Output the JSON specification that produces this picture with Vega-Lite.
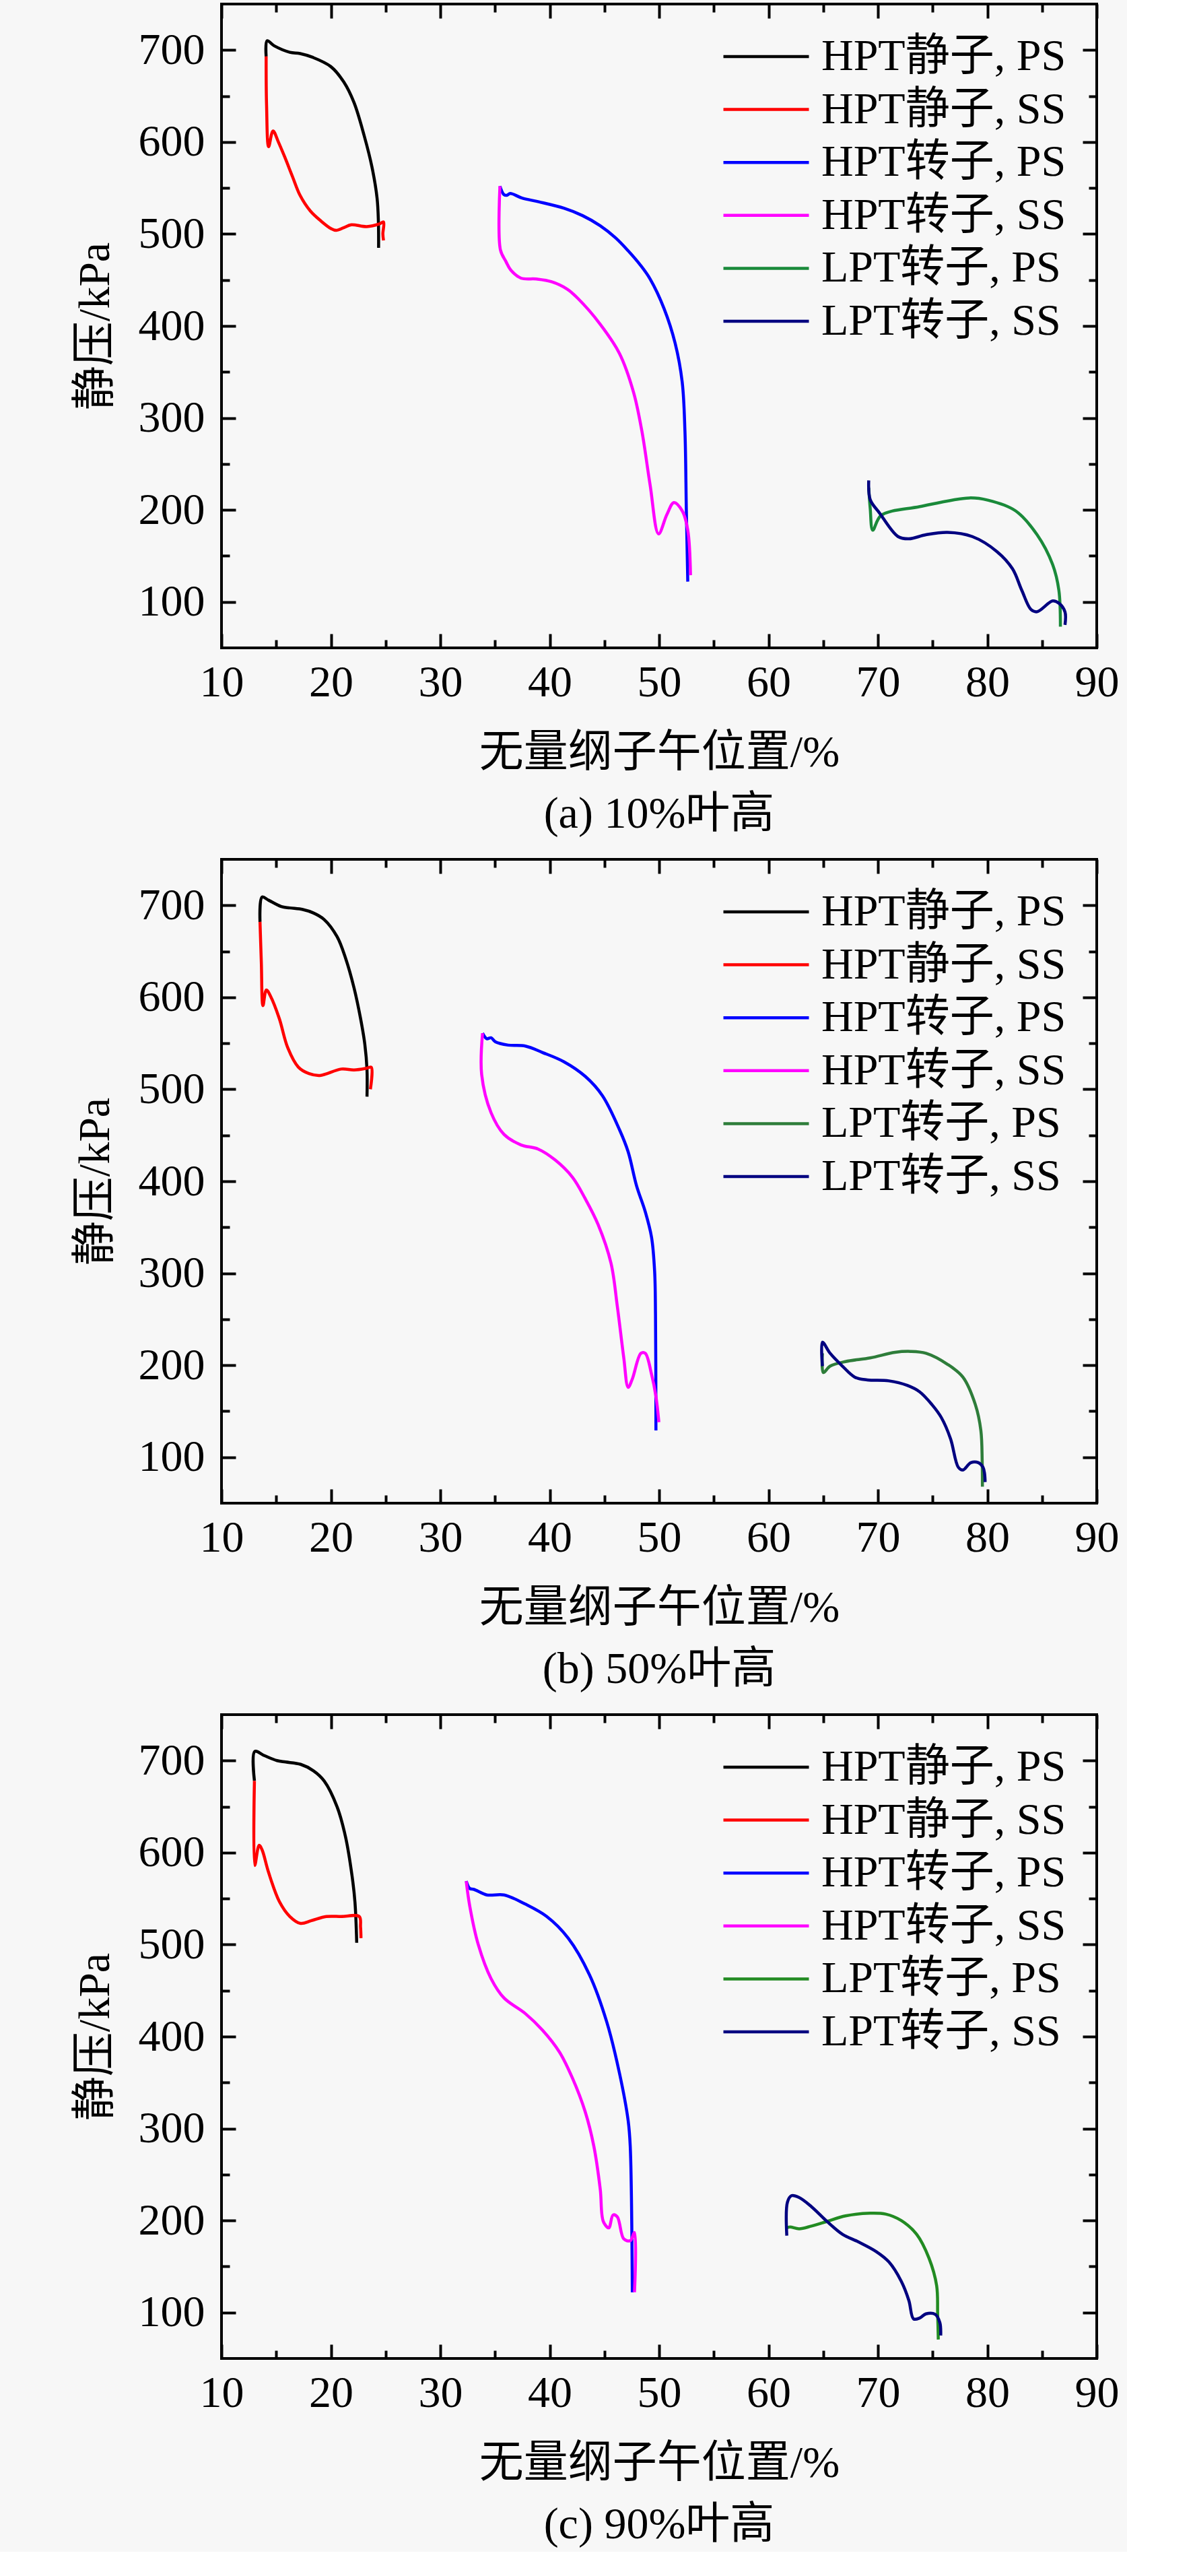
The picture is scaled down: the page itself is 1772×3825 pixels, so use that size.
{
"$schema": "https://vega.github.io/schema/vega-lite/v6.json",
"background": "#f7f7f7",
"padding": {"left": 106, "top": 2, "right": 10, "bottom": 5},
"spacing": 28,
"config": {
 "font": "Liberation Serif, Noto Sans CJK SC",
 "view": {"stroke": "#000000", "strokeWidth": 4},
 "axis": {"domain": false, "grid": false, "tickColor": "#000000", "tickWidth": 4, "labelFont": "Liberation Serif, Noto Sans CJK SC", "labelFontSize": 66, "labelColor": "#000000", "labelFlush": false, "labelOverlap": false, "titleFont": "Liberation Serif, Noto Sans CJK SC", "titleFontSize": 66, "titleFontWeight": "normal", "titleColor": "#000000"},
 "title": {"font": "Liberation Serif, Noto Sans CJK SC", "fontSize": 66, "fontWeight": "normal", "color": "#000000"},
 "legend": {"orient": "top-right", "offset": 45, "padding": 0, "labelFont": "Liberation Serif, Noto Sans CJK SC", "labelFontSize": 66, "labelColor": "#000000", "labelLimit": 1000, "symbolType": "stroke", "symbolSize": 16129, "symbolStrokeWidth": 4.5, "clipHeight": 66, "rowPadding": 12.6, "labelOffset": 16}
},
"resolve": {"scale": {"color": "independent"}, "legend": {"color": "independent"}},
"datasets": {
 "a": [
  {"s":"HPT静子, PS","i":0,"x":14.08,"y":693},{"s":"HPT静子, PS","i":1,"x":14.17,"y":710},{"s":"HPT静子, PS","i":2,"x":14.83,"y":704.5},{"s":"HPT静子, PS","i":3,"x":16.24,"y":697.6},{"s":"HPT静子, PS","i":4,"x":17.18,"y":696.2},{"s":"HPT静子, PS","i":5,"x":18.35,"y":692},{"s":"HPT静子, PS","i":6,"x":19.99,"y":682},{"s":"HPT静子, PS","i":7,"x":21.17,"y":665.4},{"s":"HPT静子, PS","i":8,"x":22.11,"y":643},{"s":"HPT静子, PS","i":9,"x":23.05,"y":606.5},{"s":"HPT静子, PS","i":10,"x":23.75,"y":573},{"s":"HPT静子, PS","i":11,"x":24.22,"y":539},{"s":"HPT静子, PS","i":12,"x":24.34,"y":514},{"s":"HPT静子, PS","i":13,"x":24.36,"y":485},
  {"s":"HPT静子, SS","i":0,"x":14.08,"y":693},{"s":"HPT静子, SS","i":1,"x":14.12,"y":640},{"s":"HPT静子, SS","i":2,"x":14.31,"y":595},{"s":"HPT静子, SS","i":3,"x":14.71,"y":612},{"s":"HPT静子, SS","i":4,"x":15.2,"y":600},{"s":"HPT静子, SS","i":5,"x":15.77,"y":584},{"s":"HPT静子, SS","i":6,"x":16.5,"y":562},{"s":"HPT静子, SS","i":7,"x":17.18,"y":542},{"s":"HPT静子, SS","i":8,"x":18.12,"y":525},{"s":"HPT静子, SS","i":9,"x":19.1,"y":514},{"s":"HPT静子, SS","i":10,"x":19.99,"y":506},{"s":"HPT静子, SS","i":11,"x":20.47,"y":504},{"s":"HPT静子, SS","i":12,"x":21.2,"y":507},{"s":"HPT静子, SS","i":13,"x":21.87,"y":510},{"s":"HPT静子, SS","i":14,"x":23.28,"y":508},{"s":"HPT静子, SS","i":15,"x":24.45,"y":511},{"s":"HPT静子, SS","i":16,"x":24.81,"y":513},{"s":"HPT静子, SS","i":17,"x":24.75,"y":500},{"s":"HPT静子, SS","i":18,"x":24.81,"y":493},
  {"s":"HPT转子, PS","i":0,"x":35.45,"y":552},{"s":"HPT转子, PS","i":1,"x":35.8,"y":543},{"s":"HPT转子, PS","i":2,"x":36.08,"y":542},{"s":"HPT转子, PS","i":3,"x":36.4,"y":544},{"s":"HPT转子, PS","i":4,"x":37.48,"y":539},{"s":"HPT转子, PS","i":5,"x":39.0,"y":535},{"s":"HPT转子, PS","i":6,"x":41.3,"y":528},{"s":"HPT转子, PS","i":7,"x":43.0,"y":520},{"s":"HPT转子, PS","i":8,"x":44.61,"y":509},{"s":"HPT转子, PS","i":9,"x":46.0,"y":496},{"s":"HPT转子, PS","i":10,"x":47.15,"y":482},{"s":"HPT转子, PS","i":11,"x":48.3,"y":466},{"s":"HPT转子, PS","i":12,"x":49.18,"y":451},{"s":"HPT转子, PS","i":13,"x":50.45,"y":419},{"s":"HPT转子, PS","i":14,"x":51.47,"y":381},{"s":"HPT转子, PS","i":15,"x":52.11,"y":339},{"s":"HPT转子, PS","i":16,"x":52.36,"y":286},{"s":"HPT转子, PS","i":17,"x":52.49,"y":199},{"s":"HPT转子, PS","i":18,"x":52.62,"y":122},
  {"s":"HPT转子, SS","i":0,"x":35.45,"y":552},{"s":"HPT转子, SS","i":1,"x":35.49,"y":483},{"s":"HPT转子, SS","i":2,"x":36.0,"y":470},{"s":"HPT转子, SS","i":3,"x":36.43,"y":461},{"s":"HPT转子, SS","i":4,"x":37.37,"y":452},{"s":"HPT转子, SS","i":5,"x":38.78,"y":451},{"s":"HPT转子, SS","i":6,"x":40.18,"y":448},{"s":"HPT转子, SS","i":7,"x":41.6,"y":440},{"s":"HPT转子, SS","i":8,"x":42.57,"y":430},{"s":"HPT转子, SS","i":9,"x":44.61,"y":402},{"s":"HPT转子, SS","i":10,"x":46.38,"y":370},{"s":"HPT转子, SS","i":11,"x":47.66,"y":328},{"s":"HPT转子, SS","i":12,"x":48.42,"y":286},{"s":"HPT转子, SS","i":13,"x":49.18,"y":227},{"s":"HPT转子, SS","i":14,"x":49.95,"y":174},{"s":"HPT转子, SS","i":15,"x":50.71,"y":195},{"s":"HPT转子, SS","i":16,"x":51.35,"y":208},{"s":"HPT转子, SS","i":17,"x":52.11,"y":199},{"s":"HPT转子, SS","i":18,"x":52.62,"y":178},{"s":"HPT转子, SS","i":19,"x":52.87,"y":129},
  {"s":"LPT转子, PS","i":0,"x":69.16,"y":224},{"s":"LPT转子, PS","i":1,"x":69.3,"y":201},{"s":"LPT转子, PS","i":2,"x":69.53,"y":178},{"s":"LPT转子, PS","i":3,"x":70.29,"y":194},{"s":"LPT转子, PS","i":4,"x":73.82,"y":203.6},{"s":"LPT转子, PS","i":5,"x":78.34,"y":213},{"s":"LPT转子, PS","i":6,"x":80.04,"y":210.6},{"s":"LPT转子, PS","i":7,"x":82.58,"y":199},{"s":"LPT转子, PS","i":8,"x":84.55,"y":173},{"s":"LPT转子, PS","i":9,"x":85.97,"y":140.6},{"s":"LPT转子, PS","i":10,"x":86.54,"y":112.6},{"s":"LPT转子, PS","i":11,"x":86.68,"y":73},
  {"s":"LPT转子, SS","i":0,"x":69.16,"y":232},{"s":"LPT转子, SS","i":1,"x":69.3,"y":211},{"s":"LPT转子, SS","i":2,"x":70.15,"y":196.6},{"s":"LPT转子, SS","i":3,"x":71.84,"y":171},{"s":"LPT转子, SS","i":4,"x":72.83,"y":168.6},{"s":"LPT转子, SS","i":5,"x":74.39,"y":173},{"s":"LPT转子, SS","i":6,"x":76.36,"y":175.6},{"s":"LPT转子, SS","i":7,"x":78.63,"y":171},{"s":"LPT转子, SS","i":8,"x":80.89,"y":154.6},{"s":"LPT转子, SS","i":9,"x":82.3,"y":136},{"s":"LPT转子, SS","i":10,"x":83.15,"y":112.6},{"s":"LPT转子, SS","i":11,"x":84.0,"y":91.6},{"s":"LPT转子, SS","i":12,"x":84.55,"y":89.3},{"s":"LPT转子, SS","i":13,"x":85.97,"y":101},{"s":"LPT转子, SS","i":14,"x":86.54,"y":98.6},{"s":"LPT转子, SS","i":15,"x":87.1,"y":89},{"s":"LPT转子, SS","i":16,"x":87.1,"y":75}
 ],
 "b": [
  {"s":"HPT静子, PS","i":0,"x":13.52,"y":682},{"s":"HPT静子, PS","i":1,"x":13.71,"y":709},{"s":"HPT静子, PS","i":2,"x":14.3,"y":705.6},{"s":"HPT静子, PS","i":3,"x":15.47,"y":698.6},{"s":"HPT静子, PS","i":4,"x":16.25,"y":697.2},{"s":"HPT静子, PS","i":5,"x":17.43,"y":695.4},{"s":"HPT静子, PS","i":6,"x":18.4,"y":691.7},{"s":"HPT静子, PS","i":7,"x":19.38,"y":684.6},{"s":"HPT静子, PS","i":8,"x":20.56,"y":666},{"s":"HPT静子, PS","i":9,"x":21.34,"y":642.6},{"s":"HPT静子, PS","i":10,"x":22.12,"y":610},{"s":"HPT静子, PS","i":11,"x":22.71,"y":577},{"s":"HPT静子, PS","i":12,"x":23.1,"y":549},{"s":"HPT静子, PS","i":13,"x":23.3,"y":521},{"s":"HPT静子, PS","i":14,"x":23.3,"y":492},
  {"s":"HPT静子, SS","i":0,"x":13.52,"y":682},{"s":"HPT静子, SS","i":1,"x":13.64,"y":638},{"s":"HPT静子, SS","i":2,"x":13.79,"y":591},{"s":"HPT静子, SS","i":3,"x":14.1,"y":608},{"s":"HPT静子, SS","i":4,"x":14.49,"y":601},{"s":"HPT静子, SS","i":5,"x":15.28,"y":577},{"s":"HPT静子, SS","i":6,"x":16.06,"y":545},{"s":"HPT静子, SS","i":7,"x":17.03,"y":524},{"s":"HPT静子, SS","i":8,"x":18.0,"y":517},{"s":"HPT静子, SS","i":9,"x":19.0,"y":515},{"s":"HPT静子, SS","i":10,"x":20.95,"y":522},{"s":"HPT静子, SS","i":11,"x":22.12,"y":521},{"s":"HPT静子, SS","i":12,"x":23.3,"y":523},{"s":"HPT静子, SS","i":13,"x":23.69,"y":524},{"s":"HPT静子, SS","i":14,"x":23.61,"y":500},
  {"s":"HPT转子, PS","i":0,"x":33.86,"y":561},{"s":"HPT转子, PS","i":1,"x":34.25,"y":555},{"s":"HPT转子, PS","i":2,"x":34.64,"y":556},{"s":"HPT转子, PS","i":3,"x":35.04,"y":551.5},{"s":"HPT转子, PS","i":4,"x":36.21,"y":548},{"s":"HPT转子, PS","i":5,"x":37.77,"y":547},{"s":"HPT转子, PS","i":6,"x":39.34,"y":540},{"s":"HPT转子, PS","i":7,"x":41.29,"y":530},{"s":"HPT转子, PS","i":8,"x":43.25,"y":514},{"s":"HPT转子, PS","i":9,"x":44.82,"y":493},{"s":"HPT转子, PS","i":10,"x":46.38,"y":456},{"s":"HPT转子, PS","i":11,"x":47.17,"y":432},{"s":"HPT转子, PS","i":12,"x":47.94,"y":395},{"s":"HPT转子, PS","i":13,"x":48.73,"y":367},{"s":"HPT转子, PS","i":14,"x":49.31,"y":339},{"s":"HPT转子, PS","i":15,"x":49.59,"y":302},{"s":"HPT转子, PS","i":16,"x":49.67,"y":255},{"s":"HPT转子, PS","i":17,"x":49.71,"y":129},
  {"s":"HPT转子, SS","i":0,"x":33.86,"y":561},{"s":"HPT转子, SS","i":1,"x":33.78,"y":516},{"s":"HPT转子, SS","i":2,"x":34.64,"y":474.5},{"s":"HPT转子, SS","i":3,"x":35.82,"y":451},{"s":"HPT转子, SS","i":4,"x":37.38,"y":439.5},{"s":"HPT转子, SS","i":5,"x":38.94,"y":435},{"s":"HPT转子, SS","i":6,"x":40.51,"y":423},{"s":"HPT转子, SS","i":7,"x":42.07,"y":404.5},{"s":"HPT转子, SS","i":8,"x":43.25,"y":381},{"s":"HPT转子, SS","i":9,"x":44.42,"y":353},{"s":"HPT转子, SS","i":10,"x":45.6,"y":311},{"s":"HPT转子, SS","i":11,"x":46.18,"y":264},{"s":"HPT转子, SS","i":12,"x":46.77,"y":208},{"s":"HPT转子, SS","i":13,"x":47.17,"y":176},{"s":"HPT转子, SS","i":14,"x":47.55,"y":185},{"s":"HPT转子, SS","i":15,"x":48.34,"y":213},{"s":"HPT转子, SS","i":16,"x":48.73,"y":213},{"s":"HPT转子, SS","i":17,"x":49.31,"y":190},{"s":"HPT转子, SS","i":18,"x":49.71,"y":166},{"s":"HPT转子, SS","i":19,"x":49.98,"y":138},
  {"s":"LPT转子, PS","i":0,"x":64.93,"y":213},{"s":"LPT转子, PS","i":1,"x":65.01,"y":192},{"s":"LPT转子, PS","i":2,"x":65.63,"y":199},{"s":"LPT转子, PS","i":3,"x":67.04,"y":204},{"s":"LPT转子, PS","i":4,"x":69.3,"y":208},{"s":"LPT转子, PS","i":5,"x":71.56,"y":214},{"s":"LPT转子, PS","i":6,"x":72.98,"y":215},{"s":"LPT转子, PS","i":7,"x":74.39,"y":213},{"s":"LPT转子, PS","i":8,"x":76.36,"y":201},{"s":"LPT转子, PS","i":9,"x":77.77,"y":187},{"s":"LPT转子, PS","i":10,"x":78.91,"y":157},{"s":"LPT转子, PS","i":11,"x":79.41,"y":129},{"s":"LPT转子, PS","i":12,"x":79.53,"y":96},{"s":"LPT转子, PS","i":13,"x":79.55,"y":68},
  {"s":"LPT转子, SS","i":0,"x":64.93,"y":199},{"s":"LPT转子, SS","i":1,"x":64.93,"y":225},{"s":"LPT转子, SS","i":2,"x":65.63,"y":213},{"s":"LPT转子, SS","i":3,"x":66.76,"y":199},{"s":"LPT转子, SS","i":4,"x":67.89,"y":187},{"s":"LPT转子, SS","i":5,"x":69.02,"y":184},{"s":"LPT转子, SS","i":6,"x":71.0,"y":183},{"s":"LPT转子, SS","i":7,"x":72.69,"y":178},{"s":"LPT转子, SS","i":8,"x":73.82,"y":171},{"s":"LPT转子, SS","i":9,"x":74.95,"y":157},{"s":"LPT转子, SS","i":10,"x":75.8,"y":143},{"s":"LPT转子, SS","i":11,"x":76.64,"y":120},{"s":"LPT转子, SS","i":12,"x":77.35,"y":89},{"s":"LPT转子, SS","i":13,"x":77.77,"y":86},{"s":"LPT转子, SS","i":14,"x":78.49,"y":94},{"s":"LPT转子, SS","i":15,"x":79.19,"y":94},{"s":"LPT转子, SS","i":16,"x":79.61,"y":89},{"s":"LPT转子, SS","i":17,"x":79.75,"y":82},{"s":"LPT转子, SS","i":18,"x":79.8,"y":73}
 ],
 "c": [
  {"s":"HPT静子, PS","i":0,"x":13.01,"y":678},{"s":"HPT静子, PS","i":1,"x":13.04,"y":710},{"s":"HPT静子, PS","i":2,"x":13.91,"y":705.5},{"s":"HPT静子, PS","i":3,"x":15.08,"y":700},{"s":"HPT静子, PS","i":4,"x":15.86,"y":698.5},{"s":"HPT静子, PS","i":5,"x":17.23,"y":696},{"s":"HPT静子, PS","i":6,"x":18.4,"y":689},{"s":"HPT静子, PS","i":7,"x":19.38,"y":678},{"s":"HPT静子, PS","i":8,"x":20.56,"y":650},{"s":"HPT静子, PS","i":9,"x":21.34,"y":617},{"s":"HPT静子, PS","i":10,"x":21.93,"y":575},{"s":"HPT静子, PS","i":11,"x":22.2,"y":546},{"s":"HPT静子, PS","i":12,"x":22.36,"y":502},
  {"s":"HPT静子, SS","i":0,"x":13.01,"y":678},{"s":"HPT静子, SS","i":1,"x":13.04,"y":586},{"s":"HPT静子, SS","i":2,"x":13.44,"y":608},{"s":"HPT静子, SS","i":3,"x":13.71,"y":603},{"s":"HPT静子, SS","i":4,"x":14.29,"y":579},{"s":"HPT静子, SS","i":5,"x":15.28,"y":547},{"s":"HPT静子, SS","i":6,"x":16.25,"y":530.5},{"s":"HPT静子, SS","i":7,"x":17.23,"y":523},{"s":"HPT静子, SS","i":8,"x":18.21,"y":526},{"s":"HPT静子, SS","i":9,"x":19.58,"y":530.5},{"s":"HPT静子, SS","i":10,"x":20.95,"y":530.5},{"s":"HPT静子, SS","i":11,"x":22.59,"y":530.5},{"s":"HPT静子, SS","i":12,"x":22.71,"y":519},{"s":"HPT静子, SS","i":13,"x":22.75,"y":507},
  {"s":"HPT转子, PS","i":0,"x":32.37,"y":569},{"s":"HPT转子, PS","i":1,"x":32.69,"y":561},{"s":"HPT转子, PS","i":2,"x":33.08,"y":560},{"s":"HPT转子, PS","i":3,"x":34.25,"y":554},{"s":"HPT转子, PS","i":4,"x":35.82,"y":554},{"s":"HPT转子, PS","i":5,"x":37.77,"y":544},{"s":"HPT转子, PS","i":6,"x":39.73,"y":530.5},{"s":"HPT转子, PS","i":7,"x":41.69,"y":507},{"s":"HPT转子, PS","i":8,"x":43.64,"y":467},{"s":"HPT转子, PS","i":9,"x":45.21,"y":416},{"s":"HPT转子, PS","i":10,"x":46.38,"y":360},{"s":"HPT转子, PS","i":11,"x":47.17,"y":308.6},{"s":"HPT转子, PS","i":12,"x":47.36,"y":281},{"s":"HPT转子, PS","i":13,"x":47.55,"y":122},
  {"s":"HPT转子, SS","i":0,"x":32.37,"y":569},{"s":"HPT转子, SS","i":1,"x":32.69,"y":542},{"s":"HPT转子, SS","i":2,"x":33.47,"y":500},{"s":"HPT转子, SS","i":3,"x":34.64,"y":463},{"s":"HPT转子, SS","i":4,"x":35.82,"y":442},{"s":"HPT转子, SS","i":5,"x":37.77,"y":425},{"s":"HPT转子, SS","i":6,"x":39.34,"y":407},{"s":"HPT转子, SS","i":7,"x":40.9,"y":383},{"s":"HPT转子, SS","i":8,"x":42.07,"y":355},{"s":"HPT转子, SS","i":9,"x":43.25,"y":318},{"s":"HPT转子, SS","i":10,"x":44.03,"y":281},{"s":"HPT转子, SS","i":11,"x":44.62,"y":234},{"s":"HPT转子, SS","i":12,"x":44.9,"y":199},{"s":"HPT转子, SS","i":13,"x":45.4,"y":192},{"s":"HPT转子, SS","i":14,"x":45.79,"y":206},{"s":"HPT转子, SS","i":15,"x":46.18,"y":204},{"s":"HPT转子, SS","i":16,"x":46.77,"y":180},{"s":"HPT转子, SS","i":17,"x":47.36,"y":178},{"s":"HPT转子, SS","i":18,"x":47.75,"y":187},{"s":"HPT转子, SS","i":19,"x":47.75,"y":122},
  {"s":"LPT转子, PS","i":0,"x":61.67,"y":192},{"s":"LPT转子, PS","i":1,"x":61.96,"y":193},{"s":"LPT转子, PS","i":2,"x":62.8,"y":191},{"s":"LPT转子, PS","i":3,"x":63.93,"y":194},{"s":"LPT转子, PS","i":4,"x":65.35,"y":199},{"s":"LPT转子, PS","i":5,"x":67.04,"y":205},{"s":"LPT转子, PS","i":6,"x":69.3,"y":208},{"s":"LPT转子, PS","i":7,"x":70.71,"y":207},{"s":"LPT转子, PS","i":8,"x":72.13,"y":200},{"s":"LPT转子, PS","i":9,"x":73.54,"y":185},{"s":"LPT转子, PS","i":10,"x":74.67,"y":159},{"s":"LPT转子, PS","i":11,"x":75.37,"y":129},{"s":"LPT转子, PS","i":12,"x":75.46,"y":98.5},{"s":"LPT转子, PS","i":13,"x":75.52,"y":70.6},
  {"s":"LPT转子, SS","i":0,"x":61.67,"y":183.5},{"s":"LPT转子, SS","i":1,"x":61.73,"y":220},{"s":"LPT转子, SS","i":2,"x":62.1,"y":227},{"s":"LPT转子, SS","i":3,"x":62.8,"y":225},{"s":"LPT转子, SS","i":4,"x":63.93,"y":215},{"s":"LPT转子, SS","i":5,"x":65.35,"y":199},{"s":"LPT转子, SS","i":6,"x":66.76,"y":185},{"s":"LPT转子, SS","i":7,"x":68.17,"y":177},{"s":"LPT转子, SS","i":8,"x":69.87,"y":166},{"s":"LPT转子, SS","i":9,"x":71.0,"y":155},{"s":"LPT转子, SS","i":10,"x":72.13,"y":134},{"s":"LPT转子, SS","i":11,"x":72.83,"y":113},{"s":"LPT转子, SS","i":12,"x":73.26,"y":93},{"s":"LPT转子, SS","i":13,"x":73.82,"y":94},{"s":"LPT转子, SS","i":14,"x":74.39,"y":98.5},{"s":"LPT转子, SS","i":15,"x":75.23,"y":98},{"s":"LPT转子, SS","i":16,"x":75.66,"y":89},{"s":"LPT转子, SS","i":17,"x":75.74,"y":75}
 ]
},
"vconcat": [
 {"width": 1300, "height": 956, "data": {"name": "a"},
  "title": {"text": "(a) 10%叶高", "orient": "bottom", "anchor": "middle", "offset": 27},
  "layer": [
   {"mark": {"type": "line", "strokeWidth": 4.5, "strokeJoin": "round", "interpolate": "catmull-rom"},
    "encoding": {
     "x": {"field": "x", "type": "quantitative", "scale": {"domain": [10, 90], "nice": false, "zero": false}, "axis": {"orient": "bottom", "values": [10,15,20,25,30,35,40,45,50,55,60,65,70,75,80,85,90], "labelExpr": "datum.value % 10 === 0 ? datum.label : ''", "tickSize": {"condition": {"test": "datum.value % 10 === 0", "value": -21}, "value": -12}, "labelPadding": 40, "title": "无量纲子午位置/%", "titlePadding": 30}},
     "y": {"field": "y", "type": "quantitative", "scale": {"domain": [50, 750], "nice": false, "zero": false}, "axis": {"orient": "left", "values": [100,150,200,250,300,350,400,450,500,550,600,650,700], "labelExpr": "datum.value % 100 === 0 ? datum.label : ''", "tickSize": {"condition": {"test": "datum.value % 100 === 0", "value": -21}, "value": -12}, "labelPadding": 46, "title": "静压/kPa", "titlePadding": 30}},
     "order": {"field": "i", "type": "quantitative"},
     "color": {"field": "s", "type": "nominal", "scale": {"domain": ["HPT静子, PS","HPT静子, SS","HPT转子, PS","HPT转子, SS","LPT转子, PS","LPT转子, SS"], "range": ["#000000","#ff0000","#0000ff","#ff00ff","#1a8a3a","#000080"]}, "legend": {"title": null}}
    }},
   {"transform": [{"filter": "false"}],
    "mark": {"type": "line"},
    "encoding": {
     "x": {"field": "x", "type": "quantitative", "axis": {"orient": "top", "values": [10,15,20,25,30,35,40,45,50,55,60,65,70,75,80,85,90], "labels": false, "title": null, "tickSize": {"condition": {"test": "datum.value % 10 === 0", "value": -21}, "value": -12}}},
     "y": {"field": "y", "type": "quantitative", "axis": {"orient": "right", "values": [100,150,200,250,300,350,400,450,500,550,600,650,700], "labels": false, "title": null, "tickSize": {"condition": {"test": "datum.value % 100 === 0", "value": -21}, "value": -12}}}
    }}
  ],
  "resolve": {"axis": {"x": "independent", "y": "independent"}}
 },
 {"width": 1300, "height": 956, "data": {"name": "b"},
  "title": {"text": "(b) 50%叶高", "orient": "bottom", "anchor": "middle", "offset": 27},
  "layer": [
   {"mark": {"type": "line", "strokeWidth": 4.5, "strokeJoin": "round", "interpolate": "catmull-rom"},
    "encoding": {
     "x": {"field": "x", "type": "quantitative", "scale": {"domain": [10, 90], "nice": false, "zero": false}, "axis": {"orient": "bottom", "values": [10,15,20,25,30,35,40,45,50,55,60,65,70,75,80,85,90], "labelExpr": "datum.value % 10 === 0 ? datum.label : ''", "tickSize": {"condition": {"test": "datum.value % 10 === 0", "value": -21}, "value": -12}, "labelPadding": 40, "title": "无量纲子午位置/%", "titlePadding": 30}},
     "y": {"field": "y", "type": "quantitative", "scale": {"domain": [50, 750], "nice": false, "zero": false}, "axis": {"orient": "left", "values": [100,150,200,250,300,350,400,450,500,550,600,650,700], "labelExpr": "datum.value % 100 === 0 ? datum.label : ''", "tickSize": {"condition": {"test": "datum.value % 100 === 0", "value": -21}, "value": -12}, "labelPadding": 46, "title": "静压/kPa", "titlePadding": 30}},
     "order": {"field": "i", "type": "quantitative"},
     "color": {"field": "s", "type": "nominal", "scale": {"domain": ["HPT静子, PS","HPT静子, SS","HPT转子, PS","HPT转子, SS","LPT转子, PS","LPT转子, SS"], "range": ["#000000","#ff0000","#0000ff","#ff00ff","#2e7d3a","#000080"]}, "legend": {"title": null}}
    }},
   {"transform": [{"filter": "false"}],
    "mark": {"type": "line"},
    "encoding": {
     "x": {"field": "x", "type": "quantitative", "axis": {"orient": "top", "values": [10,15,20,25,30,35,40,45,50,55,60,65,70,75,80,85,90], "labels": false, "title": null, "tickSize": {"condition": {"test": "datum.value % 10 === 0", "value": -21}, "value": -12}}},
     "y": {"field": "y", "type": "quantitative", "axis": {"orient": "right", "values": [100,150,200,250,300,350,400,450,500,550,600,650,700], "labels": false, "title": null, "tickSize": {"condition": {"test": "datum.value % 100 === 0", "value": -21}, "value": -12}}}
    }}
  ],
  "resolve": {"axis": {"x": "independent", "y": "independent"}}
 },
 {"width": 1300, "height": 956, "data": {"name": "c"},
  "title": {"text": "(c) 90%叶高", "orient": "bottom", "anchor": "middle", "offset": 27},
  "layer": [
   {"mark": {"type": "line", "strokeWidth": 4.5, "strokeJoin": "round", "interpolate": "catmull-rom"},
    "encoding": {
     "x": {"field": "x", "type": "quantitative", "scale": {"domain": [10, 90], "nice": false, "zero": false}, "axis": {"orient": "bottom", "values": [10,15,20,25,30,35,40,45,50,55,60,65,70,75,80,85,90], "labelExpr": "datum.value % 10 === 0 ? datum.label : ''", "tickSize": {"condition": {"test": "datum.value % 10 === 0", "value": -21}, "value": -12}, "labelPadding": 40, "title": "无量纲子午位置/%", "titlePadding": 30}},
     "y": {"field": "y", "type": "quantitative", "scale": {"domain": [50, 750], "nice": false, "zero": false}, "axis": {"orient": "left", "values": [100,150,200,250,300,350,400,450,500,550,600,650,700], "labelExpr": "datum.value % 100 === 0 ? datum.label : ''", "tickSize": {"condition": {"test": "datum.value % 100 === 0", "value": -21}, "value": -12}, "labelPadding": 46, "title": "静压/kPa", "titlePadding": 30}},
     "order": {"field": "i", "type": "quantitative"},
     "color": {"field": "s", "type": "nominal", "scale": {"domain": ["HPT静子, PS","HPT静子, SS","HPT转子, PS","HPT转子, SS","LPT转子, PS","LPT转子, SS"], "range": ["#000000","#ff0000","#0000ff","#ff00ff","#228b22","#000080"]}, "legend": {"title": null}}
    }},
   {"transform": [{"filter": "false"}],
    "mark": {"type": "line"},
    "encoding": {
     "x": {"field": "x", "type": "quantitative", "axis": {"orient": "top", "values": [10,15,20,25,30,35,40,45,50,55,60,65,70,75,80,85,90], "labels": false, "title": null, "tickSize": {"condition": {"test": "datum.value % 10 === 0", "value": -21}, "value": -12}}},
     "y": {"field": "y", "type": "quantitative", "axis": {"orient": "right", "values": [100,150,200,250,300,350,400,450,500,550,600,650,700], "labels": false, "title": null, "tickSize": {"condition": {"test": "datum.value % 100 === 0", "value": -21}, "value": -12}}}
    }}
  ],
  "resolve": {"axis": {"x": "independent", "y": "independent"}}
 }
]
}
